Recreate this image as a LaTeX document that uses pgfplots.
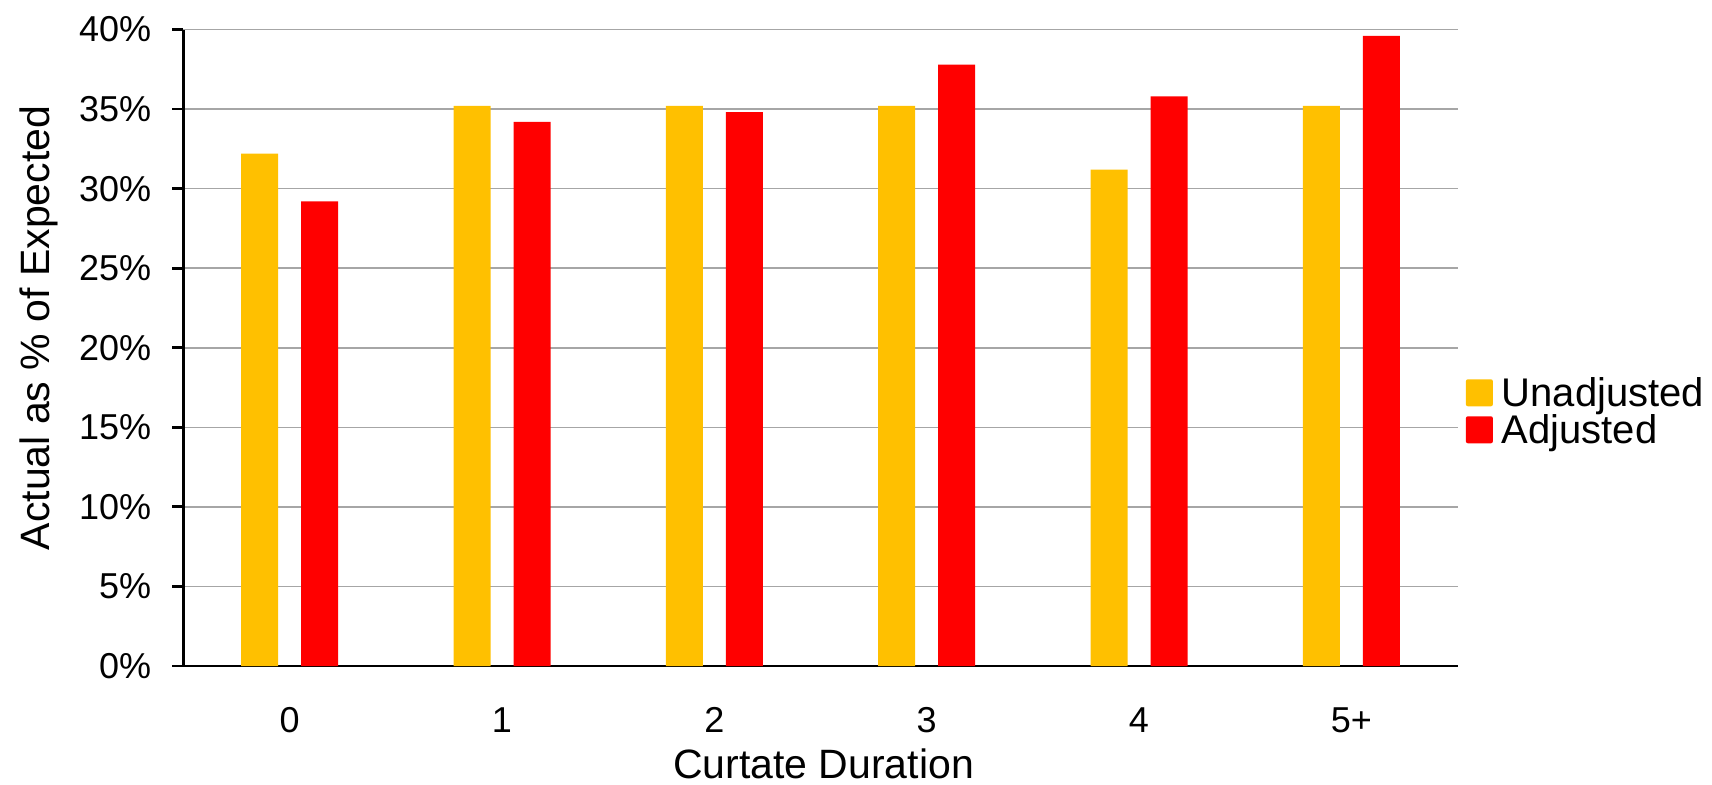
\documentclass[border=0pt]{standalone}
\usepackage{pgfplots}
\pgfplotsset{compat=1.18}
\usepackage{fontspec}
\setmainfont{Liberation Sans}
\definecolor{unadj}{HTML}{FFC000}
\definecolor{adj}{HTML}{FF0000}
\definecolor{gridgray}{HTML}{A6A6A6}

\begin{document}
\begin{tikzpicture}
\path[use as bounding box] (-91.75pt,-59pt) rectangle (764.25pt,333pt);
\begin{axis}[
  at={(0pt,0pt)}, anchor=south west,
  width=637pt, height=318.25pt, scale only axis,
  xmin=-0.5, xmax=5.5, ymin=0, ymax=40,
  axis x line*=bottom, axis y line*=left,
  axis line style={black, line width=1.4pt},
  ybar=11.5pt, bar width=18.5pt,
  ymajorgrids, grid style={gridgray, line width=0.75pt},
  tick align=outside,
  major tick length=5.5pt,
  ytick={0,5,...,40},
  yticklabels={0\%,5\%,10\%,15\%,20\%,25\%,30\%,35\%,40\%},
  ytick style={black, line width=1.4pt},
  yticklabel style={anchor=east, inner sep=0pt, xshift=-10.5pt, font=\fontsize{18}{21}\selectfont},
  xtick={0,...,5},
  xticklabels={0,1,2,3,4,5+},
  xtick style={draw=none},
  xticklabel style={anchor=base, inner sep=0pt, yshift=-27.5pt, font=\fontsize{18}{21}\selectfont},
  extra x ticks={-0.5,0.5,...,5.5},
  extra x tick labels={},
  extra x tick style={grid=none, tick style={draw=black, line width=1.4pt}, major tick length=5pt},
  legend style={at={(1,0.395)}, anchor=west, xshift=4pt, draw=none, fill=none,
    inner sep=0pt, font=\fontsize{20}{24}\selectfont,
    nodes={inner sep=0pt, text height=14pt, text depth=3.5pt},
    column sep=4.4pt, row sep=1pt},
  legend cell align=left,
  legend image code/.code={\fill[#1, rounded corners=1pt] (0pt,-5.1pt) rectangle (13.5pt,8.4pt);},
]
\addplot[fill=unadj, draw=none] coordinates
  {(0,32.2) (1,35.2) (2,35.2) (3,35.2) (4,31.2) (5,35.2)};
\addplot[fill=adj, draw=none] coordinates
  {(0,29.2) (1,34.2) (2,34.8) (3,37.8) (4,35.8) (5,39.6)};
\legend{Unadjusted, Adjusted}
\end{axis}
\node[rotate=90, anchor=base, font=\fontsize{20.5}{24}\selectfont] at (-67pt,169pt) {Actual as \% of Expected};
\node[anchor=base, font=\fontsize{20.5}{24}\selectfont] at (320pt,-56pt) {Curtate Duration};
\end{tikzpicture}
\end{document}
